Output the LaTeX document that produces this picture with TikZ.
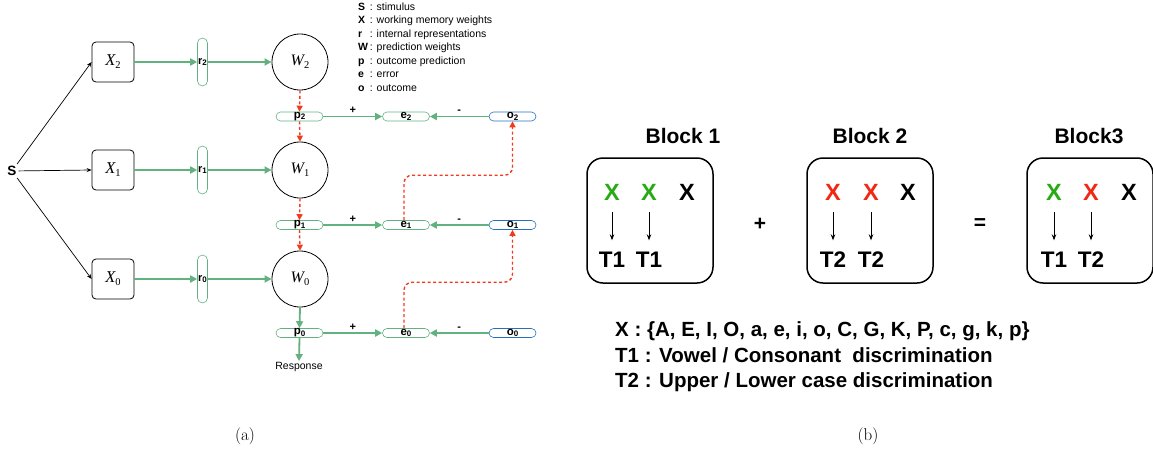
\documentclass[tikz,border=0pt]{standalone}
\usepackage{fontspec}
\setmainfont{Liberation Sans}
\newfontfamily\serifit{Liberation Serif}
\newfontfamily\lmr{Latin Modern Roman}
\usetikzlibrary{arrows.meta}
\definecolor{gr}{RGB}{98,178,128}
\definecolor{rd}{RGB}{240,60,30}
\definecolor{bl}{RGB}{40,110,190}
\definecolor{xg}{RGB}{40,170,20}
\definecolor{xr}{RGB}{240,40,20}
\newcommand{\vx}[2]{{\serifit\itshape #1}\raisebox{-3pt}{\serifit\fontsize{10.5}{10.5}\selectfont #2}}
\newcommand{\lb}[2]{#1\raisebox{-1.5pt}{\fontsize{8}{8}\selectfont #2}}
\tikzset{
  xbox/.style={draw, rounded corners=4pt, minimum width=42pt, minimum height=40pt, line width=0.8pt, inner sep=0pt, font=\fontsize{16.5}{16.5}\selectfont},
  rbox/.style={draw=gr, rounded corners=5pt, minimum width=10pt, minimum height=48pt, line width=0.6pt, inner sep=0pt, font=\bfseries\fontsize{11}{11}\selectfont},
  wcirc/.style={draw, circle, minimum size=56pt, line width=0.8pt, inner sep=0pt, font=\fontsize{16}{16}\selectfont},
  pbox/.style={draw=gr, rounded corners=4.5pt, minimum width=47pt, minimum height=9pt, inner sep=0pt, line width=0.6pt, font=\bfseries\fontsize{11.5}{11.5}\selectfont},
  obox/.style={pbox, draw=bl},
  garrow/.style={draw=gr, line width=1.8pt, -{Triangle[length=7pt,width=7pt]}},
  rarrow/.style={draw=rd, line width=1.4pt, dash pattern=on 3pt off 2.5pt, -{Triangle[length=6pt,width=6pt]}},
  karrow/.style={draw=black, line width=0.7pt, -{Stealth[length=5pt,width=4pt]}},
  sgn/.style={above=1pt, font=\bfseries\fontsize{11}{11}\selectfont, inner sep=1pt},
  blk/.style={draw, rounded corners=16pt, line width=1.5pt, minimum width=126pt, minimum height=125pt, inner sep=0pt},
  blabel/.style={font=\bfseries\fontsize{21}{21}\selectfont},
  letx/.style={font=\bfseries\fontsize{23.5}{23.5}\selectfont, inner sep=0pt, text height=16pt, text depth=0pt, anchor=base},
  lett/.style={font=\bfseries\fontsize{22.5}{22.5}\selectfont, inner sep=0pt, text height=16.5pt, text depth=0pt, anchor=base},
  tarrow/.style={draw=black, line width=0.8pt, -{Stealth[length=6pt,width=4.5pt]}, shorten <=12pt, shorten >=10pt},
}
\begin{document}
\begin{tikzpicture}[x=1pt,y=-1pt]
\useasboundingbox (0,0) rectangle (1153,450);
% ---------- panel (a) ----------
\node[font=\bfseries\fontsize{13.5}{13.5}\selectfont, inner sep=2pt] (S) at (12,171) {S};
\node[xbox] (X2) at (113,62) {\vx{X}{2}};
\node[xbox] (X1) at (113,170) {\vx{X}{1}};
\node[xbox] (X0) at (113,279) {\vx{X}{0}};
\draw[karrow] (S) -- (X2.west);
\draw[karrow] (S) -- (X1.west);
\draw[karrow] (S) -- (X0.west);
\node[rbox] (r2) at (202.5,62) {\lb{r}{2}};
\node[rbox] (r1) at (202.5,170) {\lb{r}{1}};
\node[rbox] (r0) at (202.5,279) {\lb{r}{0}};
\node[wcirc] (W2) at (300,62) {\vx{W}{2}};
\node[wcirc] (W1) at (300,170) {\vx{W}{1}};
\node[wcirc] (W0) at (300,279) {\vx{W}{0}};
\foreach \i in {2,1,0}{
  \draw[garrow] (X\i.east) -- (r\i.west);
  \draw[garrow] (r\i.east) -- (W\i.west);
}
\node[pbox] (p2) at (299.5,116.5) {\lb{p}{2}};
\node[pbox] (p1) at (299.5,225) {\lb{p}{1}};
\node[pbox] (p0) at (299.5,333) {\lb{p}{0}};
\node[pbox] (e2) at (406,116.5) {\lb{e}{2}};
\node[pbox] (e1) at (406,225) {\lb{e}{1}};
\node[pbox] (e0) at (406,333) {\lb{e}{0}};
\node[obox] (o2) at (512.5,116.5) {\lb{o}{2}};
\node[obox] (o1) at (512.5,225) {\lb{o}{1}};
\node[obox] (o0) at (512.5,333) {\lb{o}{0}};
\foreach \i in {2,1,0}{
  \draw[garrow] (p\i.east) -- node[sgn] {+} (e\i.west);
  \draw[garrow] (o\i.west) -- node[sgn] {-} (e\i.east);
}
\draw[rarrow] (W2.south) -- (p2.north);
\draw[rarrow] (p2.south) -- (W1.north);
\draw[rarrow] (W1.south) -- (p1.north);
\draw[rarrow] (p1.south) -- (W0.north);
\draw[garrow] (W0.south) -- (p0.north);
\node[font=\fontsize{10.5}{10.5}\selectfont, inner sep=1pt] (resp) at (299,367) {Response};
\draw[garrow] (p0.south) -- (resp.north);
\draw[rarrow, rounded corners=8pt] ([xshift=-2pt]e1.north) -- ++(0,-45) -| (o2.south);
\draw[rarrow, rounded corners=8pt] ([xshift=-2pt]e0.north) -- ++(0,-46) -| (o1.south);
\node[anchor=north west, inner sep=0pt, font=\fontsize{10.5}{13.5}\selectfont] (legend) at (358,0.5) {%
\begin{tabular}{@{}l@{\,}l@{}}
\textbf{S} & : stimulus\\
\textbf{X} & : working memory weights\\
\textbf{r} & : internal representations\\
\textbf{W} & : prediction weights\\
\textbf{p} & : outcome prediction\\
\textbf{e} & : error\\
\textbf{o} & : outcome
\end{tabular}};
\node[font=\lmr\fontsize{17}{17}\selectfont] (capa) at (245,436) {(a)};
% ---------- panel (b) ----------
\node[blk] (B1) at (650,220.5) {};
\node[blk] (B2) at (870,220.5) {};
\node[blk] (B3) at (1090,220.5) {};
\node[blabel] (L1) at (683,136) {Block 1};
\node[blabel] (L2) at (870,136) {Block 2};
\node[blabel] (L3) at (1089,136) {Block3};
% block 1
\node[letx, text=xg] (a1) at (612,200) {X};
\node[letx, text=xg] (a2) at (649,200) {X};
\node[letx] (a3) at (687,200) {X};
\node[lett] (ta1) at (612,267) {T1};
\node[lett] (ta2) at (649,267) {T1};
\draw[tarrow] (a1.base) -- (ta1.north);
\draw[tarrow] (a2.base) -- (ta2.north);
% block 2
\node[letx, text=xr] (b1) at (833,200) {X};
\node[letx, text=xr] (b2) at (871,200) {X};
\node[letx] (b3) at (908,200) {X};
\node[lett] (tb1) at (833,267) {T2};
\node[lett] (tb2) at (871,267) {T2};
\draw[tarrow] (b1.base) -- (tb1.north);
\draw[tarrow] (b2.base) -- (tb2.north);
% block 3
\node[letx, text=xg] (c1) at (1054,200) {X};
\node[letx, text=xr] (c2) at (1091,200) {X};
\node[letx] (c3) at (1129,200) {X};
\node[lett] (tc1) at (1054,267) {T1};
\node[lett] (tc2) at (1091,267) {T2};
\draw[tarrow] (c1.base) -- (tc1.north);
\draw[tarrow] (c2.base) -- (tc2.north);
\node[blabel] (plus) at (760,224) {+};
\node[blabel] (eq) at (980,224) {=};
\node[anchor=west, inner sep=0pt, font=\bfseries\fontsize{20.5}{25.5}\selectfont, align=left] (defs) at (615,357) {%
X : \{A, E, I, O, a, e, i, o, C, G, K, P, c, g, k, p\}\\
T1 : Vowel / Consonant~ discrimination\\
T2 : Upper / Lower case discrimination};
\node[font=\lmr\fontsize{17}{17}\selectfont] (capb) at (868,436) {(b)};
\end{tikzpicture}
\end{document}
